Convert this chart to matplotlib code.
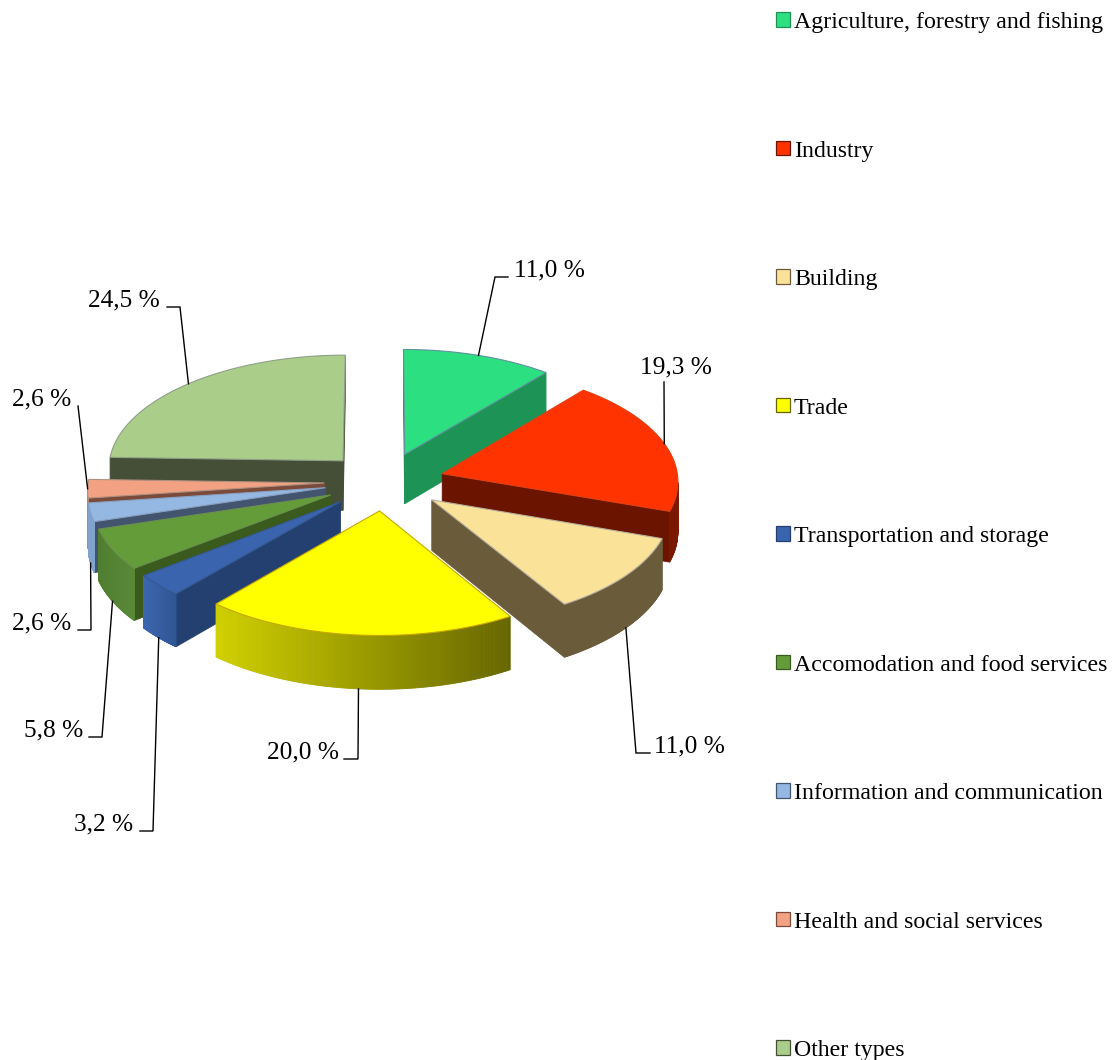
import numpy as np
import matplotlib
matplotlib.use("Agg")
import matplotlib.pyplot as plt
from matplotlib.patches import Polygon, Patch
from matplotlib.colors import to_rgb

categories = ["Agriculture, forestry and fishing", "Industry", "Building", "Trade",
              "Transportation and storage", "Accomodation and food services",
              "Information and communication", "Health and social services", "Other types"]
values = [11.0, 19.3, 11.0, 20.0, 3.2, 5.8, 2.6, 2.6, 24.5]
top_colors = ["#2CDF80", "#FF3300", "#FBE299", "#FFFF00", "#3A64AD", "#659C3A", "#94B8E2", "#F2A283", "#AACD8A"]
wall_colors = ["#1E9356", "#6B1500", "#6A5B3B", "#666600", "#234070", "#3A5A1E", "#43546F", "#7A4A3A", "#454F38"]
rim_left = ["#1E9356", "#7A1800", "#6A5B3B", "#D0D000", "#3C66AE", "#4F7E30", "#7FA3CD", "#C08468", "#454F38"]
rim_right = ["#1E9356", "#7A1800", "#6A5B3B", "#666600", "#2F5592", "#5A8A38", "#7FA3CD", "#C08468", "#454F38"]
edge_colors = ["#5F93A0", "#E04010", "#B8B0A0", "#C8A800", "#35588F", "#6A8F50", "#8AA0C0", "#B09080", "#8F9F88"]
label_xy = [(514, 269), (640, 366), (654, 745), (339, 751), (133, 823), (83, 729), (71, 622), (71, 398), (160, 299)]
label_ha = ["left", "left", "left", "right", "right", "right", "right", "right", "right"]
elbow_xy = [(495, 277), (664, 382), (636, 753), (358, 759), (153, 831), (102, 737), (91, 630), (78, 406), (180, 307)]
stub_x = [508, 664, 650, 344, 140, 89, 78, 78, 167]

CX, CY = 384.5, 481.5     # pie centre in pixels
R, B = 236.0, 114.0       # radii
P = 0.057                 # perspective strength
EXPLODE = 0.255           # explosion as a share of the radius
DEPTH = 50.0              # thickness
LABEL_FS = 18.3
LEGEND_FS = 17.17

fig = plt.figure(figsize=(11.15, 10.60), dpi=100)
ax = fig.add_axes([0, 0, 1, 1])
ax.set_xlim(0, 1115)
ax.set_ylim(1060, 0)
ax.axis("off")
SERIF = ["Liberation Serif", "DejaVu Serif"]
plt.rcParams["font.family"] = SERIF


def project(x, y, z=0.0):
    s = 1.0 / (1.0 + P * y)
    return CX + x * R * s, CY - y * B * s + z * DEPTH * s


def hidden_edge(a, b, inner):
    """True when the wall below edge a-b cannot be seen."""
    ex, ey = b[0] - a[0], b[1] - a[1]
    down = ex * 1.0
    into = ex * (inner[1] - a[1]) - ey * (inner[0] - a[0])
    return down * into > 0


fractions = np.array(values) / sum(values) * 2 * np.pi
ends = np.cumsum(fractions)
starts = ends - fractions
mids = (starts + ends) / 2
offs_x = EXPLODE * np.sin(mids)
offs_y = EXPLODE * np.cos(mids)
order = np.argsort(-offs_y)

for i in order:
    ox, oy = offs_x[i], offs_y[i]
    zo = 10 + list(order).index(i)
    th = np.linspace(starts[i], ends[i], 160)
    tx, ty = project(ox + np.sin(th), oy + np.cos(th))
    bx, by = project(ox + np.sin(th), oy + np.cos(th), 1.0)
    ax0, ay0 = project(ox, oy)
    abx, aby = project(ox, oy, 1.0)
    inner = ((ax0 + tx[80]) / 2, (ay0 + ty[80]) / 2)

    # straight cut walls
    for k in (0, -1):
        if not hidden_edge((ax0, ay0), (tx[k], ty[k]), inner):
            ax.add_patch(Polygon([(ax0, ay0), (tx[k], ty[k]), (bx[k], by[k]), (abx, aby)],
                                 closed=True, fc=wall_colors[i], ec=wall_colors[i], lw=0.6, zorder=zo))
    # curved outer wall, shaded left to right
    c0, c1 = np.array(to_rgb(rim_left[i])), np.array(to_rgb(rim_right[i]))
    x0, x1 = tx.min(), tx.max()
    for j in range(len(th) - 1):
        if hidden_edge((tx[j], ty[j]), (tx[j + 1], ty[j + 1]), inner):
            continue
        t = ((tx[j] + tx[j + 1]) / 2 - x0) / max(x1 - x0, 1)
        col = tuple(c0 + (c1 - c0) * t)
        ax.add_patch(Polygon([(tx[j], ty[j]), (tx[j + 1], ty[j + 1]), (bx[j + 1], by[j + 1]), (bx[j], by[j])],
                             closed=True, fc=col, ec=col, lw=0.6, zorder=zo))
    # top face
    pts = [(ax0, ay0)] + list(zip(tx, ty))
    ax.add_patch(Polygon(pts, closed=True, fc=top_colors[i], ec=edge_colors[i], lw=0.8, zorder=zo + 0.5))

    # leader line
    up = np.cos(mids[i]) > -0.1
    ax_, ay_ = project(ox + np.sin(mids[i]), oy + np.cos(mids[i]), 0.0 if up else 1.0)
    ex, ey = elbow_xy[i]
    ax.plot([ax_, ex, stub_x[i]], [ay_, ey, ey], color="black", lw=1.0, zorder=50, solid_joinstyle="miter")
    ax.text(label_xy[i][0], label_xy[i][1] + 1, f"{values[i]:.1f} %".replace(".", ","),
            ha=label_ha[i], va="center", fontsize=LABEL_FS, color="black", zorder=60, family=SERIF)

handles = [Patch(fc=top_colors[i], ec=wall_colors[i], lw=0.9) for i in range(len(categories))]
ax.legend(handles, categories, loc="upper left", bbox_to_anchor=(776, 12), bbox_transform=ax.transData,
          frameon=False, borderpad=0, borderaxespad=0, handlelength=14 / 23.85,
          handleheight=0.55, handletextpad=4 / 23.85, labelspacing=4.508,
          prop={"family": SERIF, "size": LEGEND_FS})

fig.savefig("out.png", dpi=100)
